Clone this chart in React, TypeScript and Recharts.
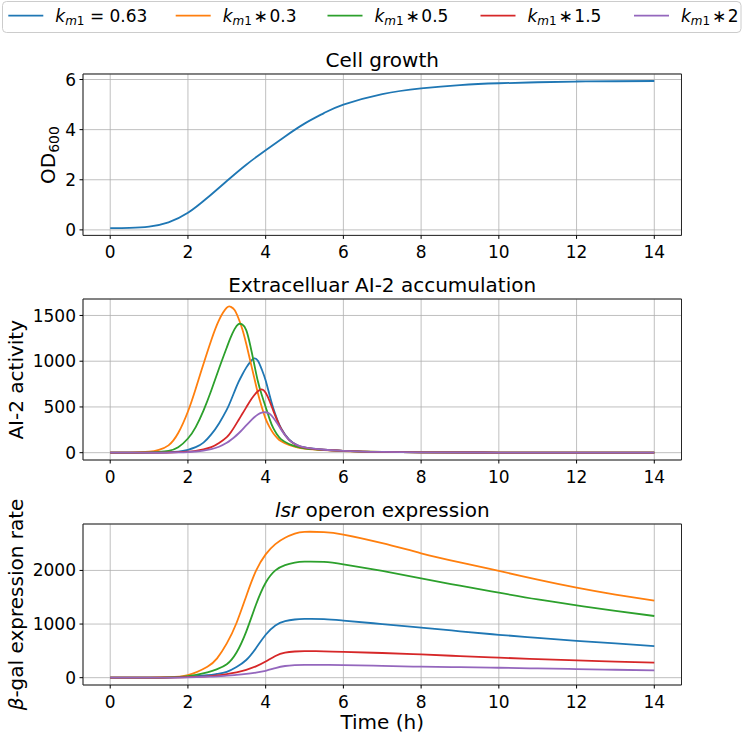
import React from 'react'
import { CartesianGrid, Line, LineChart, ReferenceArea, XAxis, YAxis } from 'recharts'

// three stacked panels sharing a time axis, legend strip on top

const FONT = '"DejaVu Sans", Verdana, sans-serif'
const INK = '#000'
const FRAME = '#262626'
const GRID = '#b0b0b0'

const SERIES_KEYS = ['base', 'x03', 'x05', 'x15', 'x2']
const SERIES_COLORS = ['#1f77b4', '#ff7f0e', '#2ca02c', '#d62728', '#9467bd']
const LEGEND_SUFFIX = ['\u00a0=\u00a00.63', '\u200a\u2217\u200a0.3', '\u200a\u2217\u200a0.5', '\u200a\u2217\u200a1.5', '\u200a\u2217\u200a2']

const X_TICKS = [0, 2, 4, 6, 8, 10, 12, 14]

// Cell growth
const T_GROWTH = [0, 0.5, 1, 1.5, 2, 2.5, 3, 3.5, 4, 4.5, 5, 5.5, 6, 7, 8, 9, 10, 11, 12, 13, 14]
const OD600 = [0.07, 0.08, 0.13, 0.3, 0.68, 1.28, 1.95, 2.6, 3.18, 3.73, 4.24, 4.66, 5.0, 5.42, 5.65, 5.78, 5.85, 5.89, 5.92, 5.93, 5.94]
const GROWTH_TICKS = [0, 2, 4, 6]

// Extracellular AI-2
const T_AI2 = [0, 0.5, 1, 1.25, 1.5, 1.75, 2, 2.2, 2.4, 2.6, 2.8, 3, 3.1, 3.2, 3.3, 3.4, 3.5, 3.6, 3.7, 3.8, 3.9, 4, 4.1, 4.2, 4.3, 4.4, 4.6, 4.8, 5, 5.5, 6, 6.5, 7, 8, 10, 12, 14]
const AI2_BASE = [0, 0, 1, 2, 5, 12, 32, 60, 110, 200, 320, 470, 565, 670, 770, 855, 930, 990, 1030, 1005, 910, 790, 630, 480, 360, 265, 145, 85, 58, 32, 20, 12, 8, 4, 1.5, 0.7, 0.3]
const AI2_X03 = [0, 1, 10, 30, 80, 215, 450, 700, 970, 1230, 1450, 1585, 1595, 1560, 1470, 1350, 1190, 1010, 830, 650, 500, 370, 280, 210, 160, 125, 85, 60, 45, 28, 18, 12, 8, 4, 1.5, 0.7, 0.3]
const AI2_X05 = [0, 0.5, 3, 8, 20, 60, 155, 280, 460, 680, 920, 1150, 1260, 1350, 1405, 1400, 1340, 1180, 980, 780, 630, 500, 370, 265, 195, 145, 95, 66, 48, 30, 19, 12, 8, 4, 1.5, 0.7, 0.3]
const AI2_X15 = [0, 0, 0.5, 1, 2, 5, 11, 20, 36, 60, 105, 170, 220, 285, 355, 425, 495, 565, 625, 672, 692, 655, 565, 455, 350, 260, 140, 82, 56, 32, 20, 12, 8, 4, 1.5, 0.7, 0.3]
const AI2_X2 = [0, 0, 0.3, 0.6, 1, 3, 7, 13, 22, 38, 65, 108, 138, 172, 210, 252, 298, 343, 385, 418, 437, 442, 425, 380, 318, 250, 140, 85, 58, 32, 20, 12, 8, 4, 1.5, 0.7, 0.3]
const AI2_TICKS = [0, 500, 1000, 1500]

// lsr operon expression
const T_LSR = [0, 1, 1.5, 2, 2.5, 2.75, 3, 3.25, 3.5, 3.75, 4, 4.25, 4.5, 4.75, 5, 5.5, 6, 7, 8, 9, 10, 11, 12, 13, 14]
const LSR_BASE = [0, 0.5, 4, 18, 45, 70, 110, 200, 330, 550, 800, 975, 1055, 1085, 1095, 1092, 1065, 1000, 935, 865, 800, 742, 688, 638, 590]
const LSR_X03 = [0, 2, 10, 50, 205, 360, 640, 1020, 1520, 1990, 2300, 2490, 2610, 2685, 2720, 2715, 2670, 2510, 2320, 2150, 1990, 1830, 1680, 1550, 1435]
const LSR_X05 = [0, 1, 6, 30, 100, 160, 250, 470, 860, 1360, 1770, 2000, 2100, 2145, 2163, 2158, 2115, 1990, 1850, 1715, 1585, 1460, 1350, 1245, 1150]
const LSR_X15 = [0, 0.3, 2, 11, 25, 42, 68, 100, 145, 210, 300, 405, 468, 488, 494, 492, 483, 460, 435, 402, 373, 347, 323, 300, 280]
const LSR_X2 = [0, 0.2, 1, 6, 18, 26, 38, 52, 70, 95, 128, 178, 218, 234, 240, 240, 235, 220, 205, 195, 185, 172, 160, 148, 137]
const LSR_TICKS = [0, 1000, 2000]

const toRows = (t: number[], cols: number[][]) =>
  t.map((v, i) => {
    const row: Record<string, number> = { t: v }
    cols.forEach((c, j) => (row[SERIES_KEYS[j]] = c[i]))
    return row
  })

const growthRows = T_GROWTH.map((t, i) => ({ t, base: OD600[i] }))
const ai2Rows = toRows(T_AI2, [AI2_BASE, AI2_X03, AI2_X05, AI2_X15, AI2_X2])
const lsrRows = toRows(T_LSR, [LSR_BASE, LSR_X03, LSR_X05, LSR_X15, LSR_X2])

// layout (px)
const W = 744
const H = 735
const PLOT_LEFT = 83
const PLOT_RIGHT = 681.5
const PLOT_CX = (PLOT_LEFT + PLOT_RIGHT) / 2
const X_DOMAIN: [number, number] = [-0.7, 14.7]
const PAD = 10
const AXIS_H = 30

const tickStyle = { fill: INK, fontSize: 17, fontFamily: FONT }

function Panel({ rows, keys, top, height, yDomain, yTicks }: {
  rows: Record<string, number>[]
  keys: string[]
  top: number
  height: number
  yDomain: [number, number]
  yTicks: number[]
}) {
  return (
    <div style={{ position: 'absolute', left: 0, top: top - PAD }}>
      <LineChart
        width={W}
        height={PAD + height + AXIS_H}
        data={rows}
        margin={{ top: PAD, right: W - PLOT_RIGHT, bottom: 0, left: 0 }}
      >
        <CartesianGrid stroke={GRID} strokeWidth={0.8} />
        <XAxis
          dataKey="t"
          type="number"
          domain={X_DOMAIN}
          ticks={X_TICKS}
          interval={0}
          allowDataOverflow
          height={AXIS_H}
          axisLine={false}
          tickLine={{ stroke: INK }}
          tickSize={3.5}
          tickMargin={7}
          tick={tickStyle}
        />
        <YAxis
          type="number"
          domain={yDomain}
          ticks={yTicks}
          interval={0}
          allowDataOverflow
          width={PLOT_LEFT}
          axisLine={false}
          tickLine={{ stroke: INK }}
          tickSize={3.5}
          tickMargin={3.5}
          tick={tickStyle}
        />
        <ReferenceArea
          x1={X_DOMAIN[0]}
          x2={X_DOMAIN[1]}
          y1={yDomain[0]}
          y2={yDomain[1]}
          fill="none"
          fillOpacity={0}
          stroke={FRAME}
          strokeWidth={1}
        />
        {keys.map((k) => (
          <Line
            key={k}
            dataKey={k}
            type="natural"
            stroke={SERIES_COLORS[SERIES_KEYS.indexOf(k)]}
            strokeWidth={1.8}
            dot={false}
            activeDot={false}
            isAnimationActive={false}
          />
        ))}
      </LineChart>
    </div>
  )
}

const PANELS = [
  { top: 74.3, height: 161.4, labelX: 55 },
  { top: 299.3, height: 161, labelX: 23 },
  { top: 524, height: 161, labelX: 22.5 },
]

const LEGEND_X = [8.3, 175.7, 327.5, 480.5, 634]

function Overlay() {
  const yLabel = (i: number, content: React.ReactNode) => {
    const p = PANELS[i]
    const cy = p.top + p.height / 2
    return (
      <text transform={`translate(${p.labelX},${cy}) rotate(-90)`} textAnchor="middle" fontSize={20}>
        {content}
      </text>
    )
  }
  const title = (i: number, content: React.ReactNode) => (
    <text x={PLOT_CX} y={PANELS[i].top - 7} textAnchor="middle" fontSize={20}>
      {content}
    </text>
  )
  return (
    <svg
      width={W}
      height={H}
      style={{ position: 'absolute', left: 0, top: 0, pointerEvents: 'none', fontFamily: FONT }}
      fill={INK}
    >
      <rect x={2.5} y={1.5} width={738.5} height={31} rx={4} fill="#fff" fillOpacity={0.8} stroke="#cccccc" strokeWidth={1} />
      {SERIES_KEYS.map((k, i) => (
        <g key={k}>
          <line x1={LEGEND_X[i]} x2={LEGEND_X[i] + 35} y1={15.7} y2={15.7} stroke={SERIES_COLORS[i]} strokeWidth={1.8} />
          <text x={LEGEND_X[i] + 47} y={21.7} fontSize={17}>
            <tspan fontStyle="italic">k</tspan>
            <tspan fontSize={12} dy={3.5}>
              <tspan fontStyle="italic">m</tspan>1
            </tspan>
            <tspan dy={-3.5}>{LEGEND_SUFFIX[i]}</tspan>
          </text>
        </g>
      ))}

      {title(0, 'Cell growth')}
      {title(1, 'Extracelluar AI-2 accumulation')}
      {title(2, (
        <>
          <tspan fontStyle="italic">lsr</tspan> operon expression
        </>
      ))}

      {yLabel(0, (
        <>
          OD<tspan fontSize={14} dy={4}>600</tspan>
        </>
      ))}
      {yLabel(1, 'AI-2 activity')}
      {yLabel(2, (
        <>
          <tspan fontStyle="italic">β</tspan>-gal expression rate
        </>
      ))}

      <text x={PLOT_CX} y={729} textAnchor="middle" fontSize={20}>
        Time (h)
      </text>
    </svg>
  )
}

export default function App() {
  return (
    <div style={{ position: 'absolute', left: 0, top: 0, width: W, height: H, background: '#fff', fontFamily: FONT }}>
      <Panel rows={growthRows} keys={['base']} top={PANELS[0].top} height={PANELS[0].height} yDomain={[-0.22, 6.22]} yTicks={GROWTH_TICKS} />
      <Panel rows={ai2Rows} keys={SERIES_KEYS} top={PANELS[1].top} height={PANELS[1].height} yDomain={[-80, 1680]} yTicks={AI2_TICKS} />
      <Panel rows={lsrRows} keys={SERIES_KEYS} top={PANELS[2].top} height={PANELS[2].height} yDomain={[-136.5, 2866]} yTicks={LSR_TICKS} />
      <Overlay />
    </div>
  )
}
